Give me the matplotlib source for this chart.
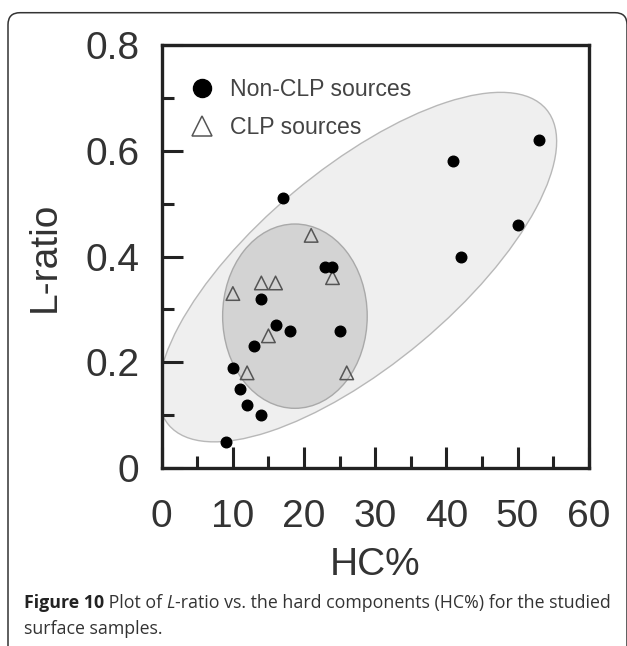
import matplotlib
matplotlib.use("Agg")
import matplotlib.pyplot as plt
from matplotlib.patches import Ellipse, FancyBboxPatch
from matplotlib.lines import Line2D
from matplotlib.ticker import MultipleLocator, FuncFormatter

# Non-CLP sources
non_clp_hc = [9, 10, 11, 12, 13, 14, 14, 16, 17, 18, 23, 24, 25, 41, 42, 50, 53]
non_clp_l = [0.05, 0.19, 0.15, 0.12, 0.23, 0.10, 0.32, 0.27, 0.51, 0.26,
             0.38, 0.38, 0.26, 0.58, 0.40, 0.46, 0.62]

# CLP sources
clp_hc = [10, 12, 14, 15, 16, 21, 24, 26]
clp_l = [0.33, 0.18, 0.35, 0.25, 0.35, 0.44, 0.36, 0.18]

x_ticks = [0, 10, 20, 30, 40, 50, 60]
y_ticks = [0, 0.2, 0.4, 0.6, 0.8]

plt.rcParams['font.family'] = ['Liberation Sans', 'DejaVu Sans']

fig = plt.figure(figsize=(6.27, 6.46), dpi=100)
ax = fig.add_axes([0.2579, 0.2755, 0.681, 0.6548])

# grouping ellipses (axes fraction)
outer = Ellipse((0.4585, 0.475), 1.157, 0.463, angle=40.2, transform=ax.transAxes,
                facecolor='#efefef', edgecolor='#b8b8b8', lw=1.0, zorder=1)
inner = Ellipse((0.312, 0.359), 0.3386, 0.4357, angle=0, transform=ax.transAxes,
                facecolor='#d3d3d3', edgecolor='#a9a9a9', lw=1.0, zorder=2)
ax.add_patch(outer)
ax.add_patch(inner)

ax.scatter(non_clp_hc, non_clp_l, s=58, color='black', zorder=4)
ax.scatter(clp_hc, clp_l, s=95, marker='^', facecolor='none', edgecolor='#555555',
           linewidths=1.1, zorder=3)

ax.set_xlim(0, 60)
ax.set_ylim(0, 0.8)
ax.set_xticks(x_ticks)
ax.set_yticks(y_ticks)
ax.xaxis.set_minor_locator(MultipleLocator(5))
ax.yaxis.set_minor_locator(MultipleLocator(0.1))
ax.yaxis.set_major_formatter(FuncFormatter(lambda v, p: '0' if v == 0 else '%.1f' % v))

ax.tick_params(which='both', direction='in', width=2.2, color='#222222',
               top=False, right=False, labelcolor='#333333', labelsize=28)
ax.tick_params(which='major', length=15)
ax.tick_params(which='minor', length=8.5)
ax.tick_params(axis='x', pad=22)
ax.tick_params(axis='y', pad=16)
for sp in ax.spines.values():
    sp.set_linewidth(2.4)
    sp.set_color('#222222')

ax.set_xlabel('HC%', fontsize=28, color='#333333', labelpad=9)
ax.set_ylabel('L-ratio', fontsize=28, color='#333333', labelpad=16)

handles = [
    Line2D([], [], ls='none', marker='o', color='black', markersize=13),
    Line2D([], [], ls='none', marker='^', markerfacecolor='none',
           markeredgecolor='#555555', markeredgewidth=1.1, markersize=14),
]
ax.legend(handles, ['Non-CLP sources', 'CLP sources'], loc='upper left',
          bbox_to_anchor=(0.063, 0.922), frameon=False, fontsize=16.6,
          handlelength=1.2, handletextpad=0.6, labelspacing=0.66,
          borderpad=0, borderaxespad=0, labelcolor='#444444')

# outer frame of the figure panel
frame = FancyBboxPatch((0.08, -0.5), 6.19, 6.833, boxstyle='round,pad=0,rounding_size=0.12',
                       transform=fig.dpi_scale_trans, facecolor='none',
                       edgecolor='#333333', lw=1.1)
fig.add_artist(frame)

# caption
cap_font = ['Open Sans', 'DejaVu Sans']
cap_size = 12.8
base1 = 0.0585
t1 = fig.text(0.038, base1, 'Figure 10', fontsize=cap_size, fontweight='bold',
              family=cap_font, color='#222222', va='baseline')
t2 = fig.text(0, 0, ' Plot of ', fontsize=cap_size, family=cap_font, color='#333333')
t3 = fig.text(0, 0, 'L', fontsize=cap_size, family=cap_font, style='italic', color='#333333')
t4 = fig.text(0, 0, '-ratio vs. the hard components (HC%) for the studied',
              fontsize=cap_size, family=cap_font, color='#333333')
fig.text(0.038, 0.0185, 'surface samples.', fontsize=cap_size, family=cap_font,
         color='#333333', va='baseline')

fig.canvas.draw()
r = fig.canvas.get_renderer()
prev = t1
for t in (t2, t3, t4):
    bb = prev.get_window_extent(r)
    x = fig.transFigure.inverted().transform((bb.x1, 0))[0]
    t.set_position((x, base1))
    t.set_va('baseline')
    fig.canvas.draw()
    prev = t

fig.savefig('out.png', dpi=100)
